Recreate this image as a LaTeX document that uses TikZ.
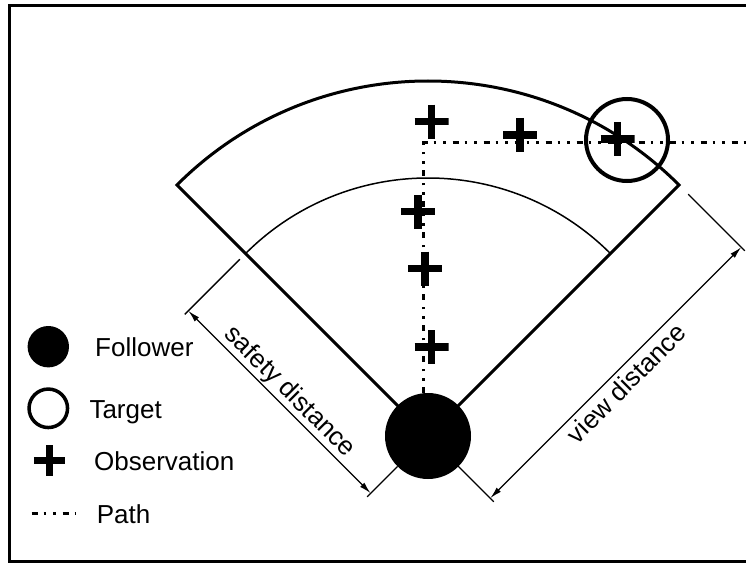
\documentclass[tikz,border=0pt]{standalone}
\usepackage{fontspec}
\setmainfont{Liberation Sans}
\usetikzlibrary{calc, positioning, arrows.meta}

\begin{document}
\begin{tikzpicture}[x=1pt, y=1pt, font=\fontsize{26}{30}\selectfont,
  follower/.style={circle, fill, inner sep=0pt, minimum size=86pt},
  target/.style={circle, draw, line width=4pt, inner sep=0pt, minimum size=82pt},
  obs/.style={inner sep=0pt, minimum size=#1, path picture={
      \draw[line width=7.5pt] (path picture bounding box.north) -- (path picture bounding box.south)
        (path picture bounding box.west) -- (path picture bounding box.east);}},
  obs/.default=34pt,
  pathline/.style={line width=3pt, dash pattern=on 6pt off 6pt on 2.5pt off 7pt on 2.5pt off 7pt},
  extline/.style={line width=1.3pt},
  dimline/.style={line width=1.3pt, arrows={Latex[length=12pt,width=6pt]-Latex[length=12pt,width=6pt]}},
  lbl/.style={anchor=base west, inner sep=0pt}]
\useasboundingbox (0,0) rectangle (746,563);
\draw[line width=3pt] (746,557.7) -- (9.5,557.7) -- (9.5,1.5) -- (746,1.5);

% field of view
\coordinate (apex) at (428,127);
\draw[line width=3pt] (apex) -- ++(135:355) arc[start angle=135, end angle=45, radius=355] -- cycle;
\draw[line width=1.5pt] ($(apex)+(135:258)$) arc[start angle=135, end angle=45, radius=258];

% follower, path and observations
\node[follower] (F) at (apex) {};
\coordinate (turn) at (423.5,420);
\coordinate (exit) at (746,420);
\draw[pathline] (turn |- F.north) -- (turn) -- (exit);
\node[obs] (o1) at (431.7,216) {};
\node[obs] (o2) at (425,294.5) {};
\node[obs] (o3) at (418,351.3) {};
\node[obs] (o4) at (431.7,441.3) {};
\node[obs] (o5) at (520,428) {};
\node[obs] (o6) at (617.7,424) {};
\node[target] (T) at (627,423) {};

% distances
\begin{scope}[shift={(apex)}, rotate=135]
  \draw[extline] (258,8) -- (258,86);
  \draw[extline] (0,43) -- (0,86);
  \draw[dimline] (258,81) -- (0,81);
  \node[rotate=-45] (sd) at (129,67) {safety distance};
\end{scope}
\begin{scope}[shift={(apex)}, rotate=45]
  \draw[extline] (355,-13) -- (355,-93);
  \draw[extline] (0,-41) -- (0,-93);
  \draw[dimline] (355,-88) -- (0,-88);
  \node[rotate=45] (vd) at (177.5,-103) {view distance};
\end{scope}

% legend
\node[follower, minimum size=41.4pt] (lf) at (48.3,216.3) {};
\node[target, line width=3.5pt, minimum size=38.5pt] (lt) at (48.3,154.7) {};
\node[obs=31pt] (lo) at (49.3,102.3) {};
\coordinate (lp1) at (31.7,49.7);
\coordinate (lp2) at (75,49.7);
\draw[pathline] (lp1) -- (lp2);
\node[lbl] (lft) at (95,207) {Follower};
\node[lbl] (ltt) at (89.3,144.7) {Target};
\node[lbl] (lot) at (94,93) {Observation};
\node[lbl] (lpt) at (96.7,39.7) {Path};
\end{tikzpicture}
\end{document}
